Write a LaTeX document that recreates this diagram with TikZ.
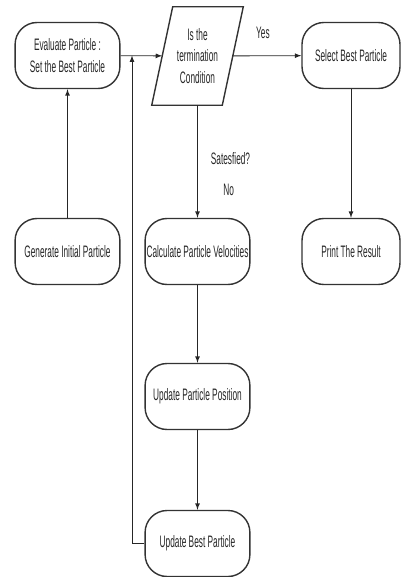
\documentclass[tikz,border=0pt]{standalone}
\usepackage{fontspec}
\setmainfont{Liberation Sans}[FakeStretch=0.5]
\usepackage{tikz}

\begin{document}
\begin{tikzpicture}[x=0.025cm, y=-0.025cm,
    every node/.style={font=\fontsize{11.8pt}{15.5pt}\selectfont, text=black!85},
    stepbox/.style={draw=black!80, line width=1pt, rounded corners=.55cm,
        minimum width=2.62cm, minimum height=1.65cm, align=center, inner sep=1pt},
    flow/.style={-latex, line width=.6pt, draw=black!85}]

    \useasboundingbox (0,0) rectangle (400,577);

    \node[stepbox]  (eval)    at (67.5, 55.5)    {Evaluate  Particle :\\Set the Best Particle};
    \node[stepbox]  (gen)     at (67.5, 251.5)   {Generate Initial Particle};
    \node[minimum width=1.75cm, minimum height=2.45cm, inner sep=0pt, align=center]
                    (cond)    at (197.5, 56)     {Is the\\termination\\Condition};
    \node[stepbox, minimum width=2.45cm]  (select)  at (351, 55.5)  {Select Best Particle};
    \node[stepbox, minimum width=2.45cm]  (print)   at (351, 251.5) {Print The Result};
    \node[stepbox]  (calc)    at (197.5, 251.5)  {Calculate Particle Velocities};
    \node[stepbox]  (updpos)  at (197.5, 396.5)  {Update Particle Position};
    \node[stepbox]  (updbest) at (197.5, 543.5)  {Update Best Particle};
    \coordinate     (join)    at (132, 55.5);

    % decision box
    \draw[draw=black!80, line width=1pt]
        ([xshift=.2625cm]cond.north west) -- ([xshift=.2625cm]cond.north east)
        -- ([xshift=-.2625cm]cond.south east) -- ([xshift=-.2625cm]cond.south west) -- cycle;

    \draw[flow] (gen) -- (eval);
    \draw[flow] (eval) -- (cond);
    \draw[flow] (cond) -- node[pos=.44, yshift=.58cm] {Yes} (select);
    \draw[flow] (cond) -- node[pos=.47, xshift=.825cm] {Satesfied?}
                          node[pos=.75, xshift=.78cm] {No} (calc);
    \draw[flow] (select) -- (print);
    \draw[flow] (calc) -- (updpos);
    \draw[flow] (updpos) -- (updbest);
    \draw[flow] (updbest.west) -| (join);
\end{tikzpicture}
\end{document}
